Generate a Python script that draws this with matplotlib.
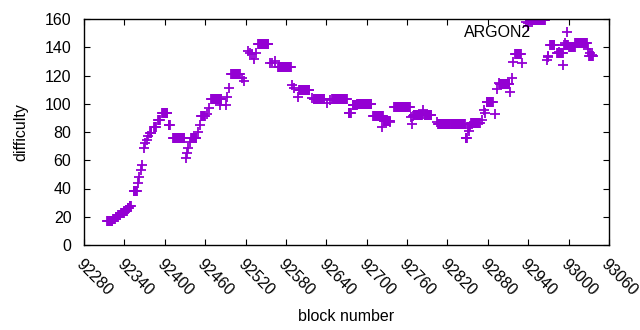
import numpy as np
import matplotlib
matplotlib.use("Agg")
import matplotlib.pyplot as plt

plt.rcParams['font.family'] = ['Liberation Sans', 'DejaVu Sans']

# runs of blocks: start block, number of blocks, difficulty
run_start = [92314, 92323, 92327, 92331, 92335, 92340, 92345, 92348,
             92354, 92360, 92362, 92364, 92366,
             92369, 92371, 92373, 92375, 92378, 92384, 92390, 92396, 92406,
             92412, 92432, 92433, 92435, 92437, 92439, 92450, 92452, 92454,
             92462, 92466, 92469, 92482, 92491, 92493, 92496, 92499, 92515, 92518,
             92524, 92526, 92530, 92533, 92536, 92539, 92556, 92560, 92564,
             92568, 92589, 92592, 92598, 92600, 92619, 92621, 92641, 92646,
             92649, 92673, 92679, 92686, 92710, 92723, 92725, 92735, 92741,
             92766, 92767, 92769, 92770, 92783, 92784, 92786, 92805, 92806,
             92847, 92851, 92852, 92854, 92855, 92872, 92875, 92876, 92878,
             92890, 92893, 92896, 92898, 92913, 92916, 92918, 92921, 92931,
             92936, 92939, 92940, 92943, 92968, 92969, 92970, 92973, 92983,
             92985, 92992, 92993, 92995, 93001, 93003, 93010, 93029, 93031,
             93032, 93035]
run_len = [9, 4, 4, 4, 5, 5, 3, 3,
           5, 1, 1, 1, 1,
           1, 1, 1, 1, 3, 4, 4, 9, 3,
           18, 1, 1, 1, 1, 9, 1, 1, 7,
           1, 1, 16, 1, 1, 1, 1, 14, 1, 1,
           1, 1, 1, 1, 1, 16, 1, 1, 1,
           20, 1, 1, 1, 16, 1, 17, 1, 1,
           22, 4, 7, 22, 15, 1, 10, 1, 24,
           1, 1, 1, 13, 1, 1, 11, 1, 41,
           3, 1, 1, 1, 14, 1, 1, 1, 10,
           1, 1, 1, 15, 1, 1, 1, 9, 1,
           1, 1, 1, 23, 1, 1, 1, 7, 9,
           1, 1, 7, 1, 9, 1, 18, 1, 6,
           1, 1]
run_value = [17, 18.5, 20, 21, 22.5, 24, 26, 27.5,
             38.5, 44, 48, 53, 56.5,
             69, 72, 74, 77, 79.5, 83.5, 88.5, 93.5, 85,
             76, 61.5, 65, 69, 73, 76, 80, 85, 91,
             93, 97, 103.5, 99, 99, 105, 111, 121, 118, 116,
             137, 136, 135, 132, 136, 142.5, 128.5, 129, 130,
             126, 113, 111, 105, 110, 104, 103.5, 100.5, 102.5,
             103.5, 93.5, 99, 100, 91.5, 83.5, 88, 87, 97.5,
             90.5, 86, 91.5, 92, 95.5, 92.5, 92, 87, 86,
             76, 83, 81, 84, 86.5, 88.5, 95.5, 93.5, 101.5,
             92.5, 110.5, 114.5, 114, 108, 118, 129.5, 135, 129,
             158, 157, 155, 159.5, 131, 133, 133.5, 141.5, 136,
             136.5, 127.5, 141.5, 143, 140.5, 140, 142.8, 138.5, 134,
             136, 134.5]

xticks = list(range(92280, 93061, 60))
yticks = list(range(0, 161, 20))
series_label = "ARGON2"
color = "#9400d3"

blocks = np.concatenate([np.arange(s, s + n) for s, n in zip(run_start, run_len)])
diffs = np.concatenate([np.full(n, v) for n, v in zip(run_len, run_value)])

FS = 11.5
fig = plt.figure(figsize=(6.4, 3.3), dpi=100)
ax = fig.add_axes([84 / 640, 1 - 245 / 330, (609 - 84) / 640, (245 - 19) / 330])
ax.plot(blocks, diffs, linestyle='none', marker='+', markersize=7,
        markeredgewidth=1.3, color=color, label=series_label, clip_on=True)

ax.set_xlim(92280, 93060)
ax.set_ylim(0, 160)
ax.set_xticks(xticks)
ax.set_yticks(yticks)
ax.set_xticklabels([str(t) for t in xticks], rotation=-45, ha='left', va='top',
                   rotation_mode='anchor', fontsize=FS)
ax.set_yticklabels([str(t) for t in yticks], fontsize=FS)
ax.tick_params(direction='in', top=True, right=True, length=4, width=0.8,
               colors='black')
ax.tick_params(axis='y', pad=9)
ax.tick_params(axis='x', pad=8)
for s in ax.spines.values():
    s.set_linewidth(1.0)
ax.set_xlabel("block number", fontsize=FS, labelpad=8)
ax.set_ylabel("difficulty", fontsize=FS, labelpad=12)

leg = ax.legend(loc='upper right', bbox_to_anchor=(0.962, 1.0), frameon=False,
                markerfirst=False, fontsize=FS, handlelength=2.0,
                handletextpad=1.2, borderaxespad=0.0)

fig.savefig("out.png", dpi=100)
